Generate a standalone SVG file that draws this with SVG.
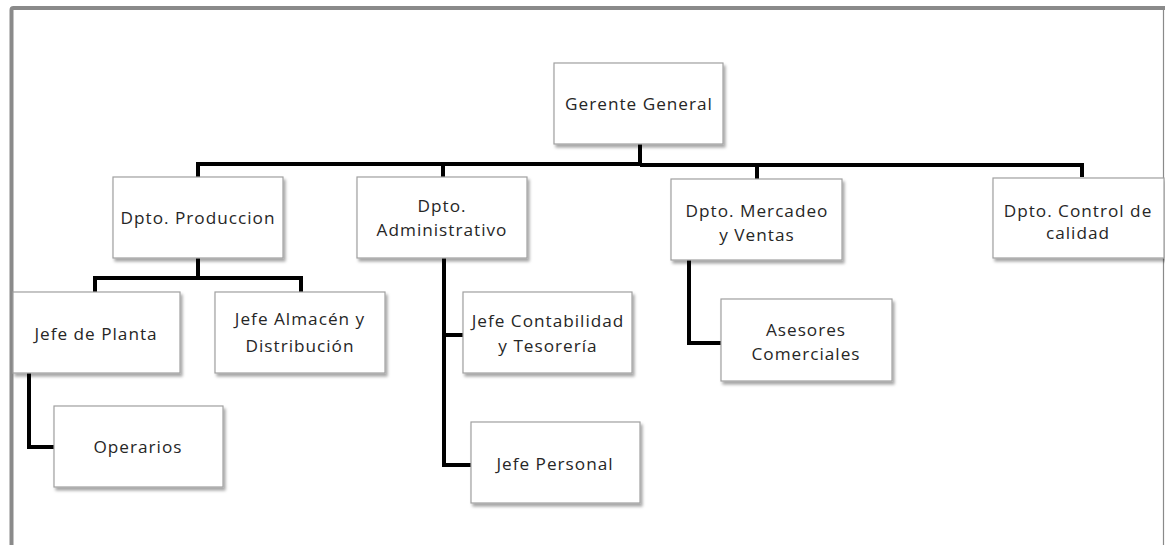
<svg xmlns="http://www.w3.org/2000/svg" width="1165" height="545" viewBox="0 0 1165 545">
<defs>
<filter id="sh" x="-10%" y="-10%" width="130%" height="140%">
<feDropShadow dx="2" dy="3" stdDeviation="1.8" flood-color="#000" flood-opacity="0.35"/>
</filter>
<style>
.box{fill:#fff;stroke:#a0a0a0;stroke-width:1.2;filter:url(#sh)}
.t{font-family:"Open Sans","DejaVu Sans",sans-serif;font-size:17.2px;fill:#262626;text-anchor:middle;letter-spacing:1px}
.c{fill:none;stroke:#000;stroke-width:4;stroke-linejoin:miter}
.frame{fill:none;stroke:#8a8a8a}
</style>
</defs>
<rect width="1165" height="545" fill="#fff"/>
<path class="frame" d="M11.5,545 V10 Q11.5,8 13.5,8 H1165" stroke-width="4"/>
<line class="frame" x1="1163.5" y1="8" x2="1163.5" y2="545" stroke-width="1.2"/>
<g id="connectors">
<path class="c" d="M640,144 V164 M198,177 V164 H640 M640,165 H1082 V177 M443,164 V177 M757,165 V179"/>
<path class="c" d="M198,258 V278 M95,292 V278 H301 V292"/>
<path class="c" d="M29,373 V447 H54"/>
<path class="c" d="M444,258 V465 H471 M444,335 H463"/>
<path class="c" d="M689,260 V343 H721"/>
</g>
<g id="gerente"><rect class="box" x="554" y="63" width="169" height="81"/><text class="t" x="639" y="110">Gerente General</text></g>
<g id="produccion"><rect class="box" x="113" y="177" width="170" height="81"/><text class="t" x="198" y="224">Dpto. Produccion</text></g>
<g id="administrativo"><rect class="box" x="357" y="177" width="170" height="81"/><text class="t" x="442" y="212">Dpto.</text><text class="t" x="442" y="236">Administrativo</text></g>
<g id="mercadeo"><rect class="box" x="671" y="179" width="171" height="81"/><text class="t" x="757" y="217">Dpto. Mercadeo</text><text class="t" x="757" y="241">y  Ventas</text></g>
<g id="calidad"><rect class="box" x="993" y="178" width="171" height="80"/><text class="t" x="1078" y="217">Dpto. Control de</text><text class="t" x="1078" y="239">calidad</text></g>
<g id="planta"><rect class="box" x="13" y="292" width="167" height="81"/><text class="t" x="96" y="340">Jefe de Planta</text></g>
<g id="almacen"><rect class="box" x="215" y="292" width="170" height="81"/><text class="t" x="300" y="325">Jefe Almacén y</text><text class="t" x="300" y="352">Distribución</text></g>
<g id="operarios"><rect class="box" x="54" y="406" width="169" height="81"/><text class="t" x="138" y="453">Operarios</text></g>
<g id="contabilidad"><rect class="box" x="463" y="292" width="169" height="81"/><text class="t" x="548" y="327">Jefe Contabilidad</text><text class="t" x="548" y="352">y Tesorería</text></g>
<g id="personal"><rect class="box" x="471" y="422" width="169" height="81"/><text class="t" x="555" y="470">Jefe Personal</text></g>
<g id="asesores"><rect class="box" x="721" y="299" width="171" height="82"/><text class="t" x="806" y="336">Asesores</text><text class="t" x="806" y="360">Comerciales</text></g>
</svg>
